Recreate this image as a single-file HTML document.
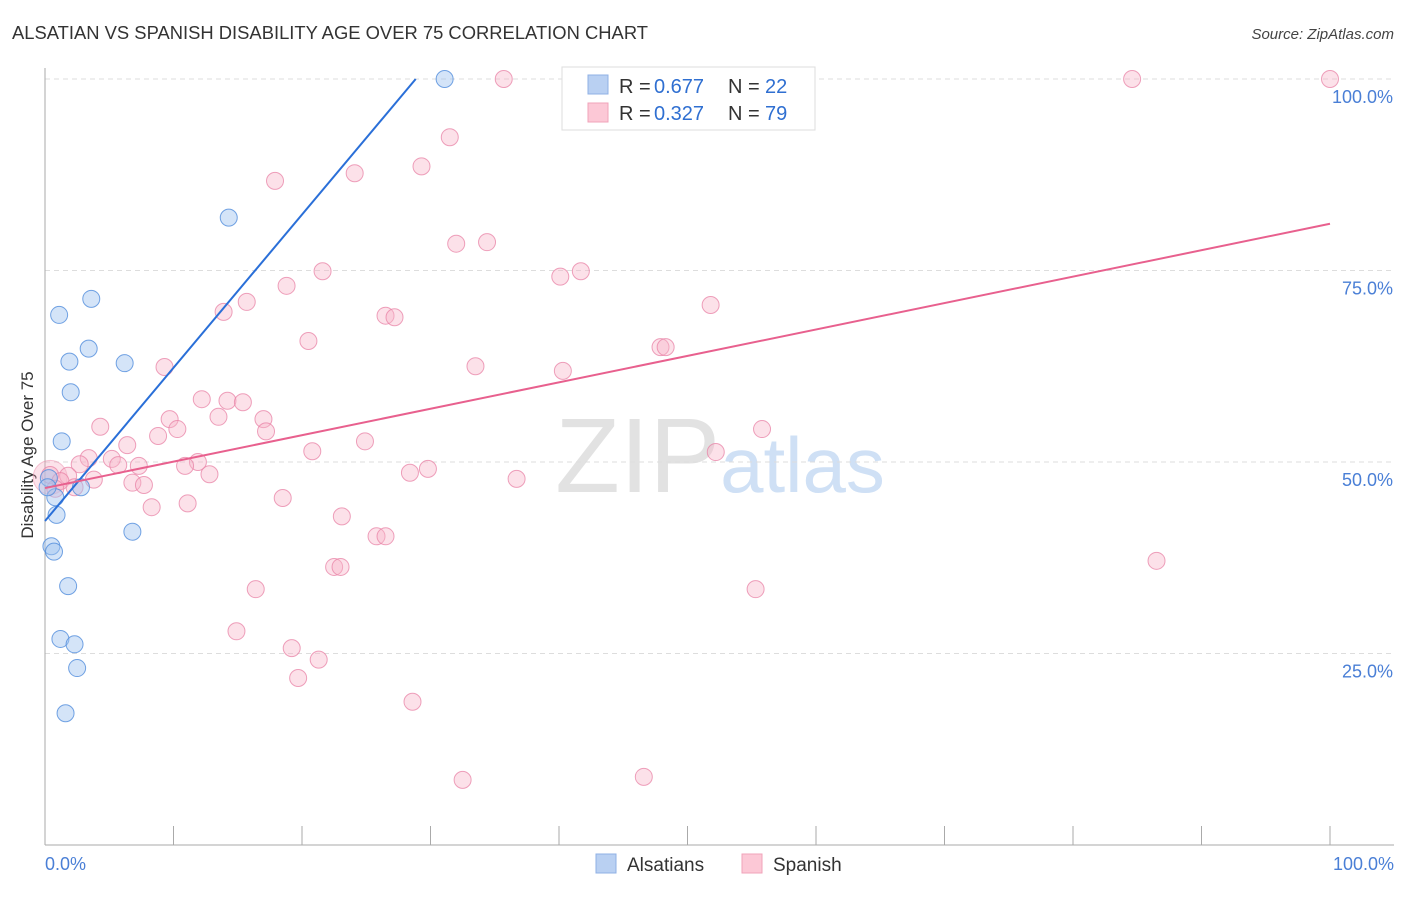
<!DOCTYPE html>
<html><head><meta charset="utf-8"><style>
body{margin:0;background:#fff;font-family:"Liberation Sans",sans-serif;}
svg text{font-family:"Liberation Sans",sans-serif;}
</style></head><body>
<svg id="chart" width="1406" height="892" xmlns="http://www.w3.org/2000/svg">
<text x="12" y="39" font-size="18" fill="#333" textLength="636" lengthAdjust="spacingAndGlyphs">ALSATIAN VS SPANISH DISABILITY AGE OVER 75 CORRELATION CHART</text>
<text x="1394" y="39" font-size="15" fill="#444" text-anchor="end" font-style="italic">Source: ZipAtlas.com</text>
<text x="720" y="492" font-size="106" text-anchor="middle" font-family="Liberation Serif" fill="#e2e2e2">ZIP<tspan fill="#cfe0f5" font-family="Liberation Sans" font-size="78">atlas</tspan></text>
<text transform="translate(33,455) rotate(-90)" font-size="17" fill="#333" text-anchor="middle">Disability Age Over 75</text>
<g id="grid"></g><g id="axes"></g><g id="pts"></g><g id="lines"></g>
<g>
<rect x="562" y="67" width="253" height="63" fill="#fff" stroke="#ddd"/>
<rect x="588" y="75" width="20" height="19" fill="#b9d0f2" stroke="#8fb0e4"/>
<rect x="588" y="103" width="20" height="19" fill="#fcc8d6" stroke="#f0a3ba"/>
<text x="619" y="93" font-size="20" fill="#333">R =</text>
<text x="654" y="93" font-size="20" fill="#2f6fd1">0.677</text>
<text x="728" y="93" font-size="20" fill="#333">N =</text>
<text x="765" y="93" font-size="20" fill="#2f6fd1">22</text>
<text x="619" y="120" font-size="20" fill="#333">R =</text>
<text x="654" y="120" font-size="20" fill="#2f6fd1">0.327</text>
<text x="728" y="120" font-size="20" fill="#333">N =</text>
<text x="765" y="120" font-size="20" fill="#2f6fd1">79</text>
</g>
<g>
<rect x="596" y="854" width="20" height="19" fill="#b9d0f2" stroke="#8fb0e4"/>
<text x="627" y="871" font-size="19" fill="#333">Alsatians</text>
<rect x="742" y="854" width="20" height="19" fill="#fcc8d6" stroke="#f0a3ba"/>
<text x="773" y="871" font-size="19" fill="#333">Spanish</text>
</g>
</svg>
<script>
const yTicks=[25,50,75,100];
const yTickLabels=["25.0%","50.0%","75.0%","100.0%"];
const xTickLabels=["0.0%","100.0%"];
const alsX=[31.1,14.3,3.6,1.1,3.4,1.9,6.2,2.0,1.3,0.3,0.8,2.8,0.9,6.8,0.5,0.7,1.8,1.2,2.3,2.5,1.6,0.2];
const alsY=[100,81.9,71.3,69.2,64.8,63.1,62.9,59.1,52.7,47.9,45.4,46.7,43.1,40.9,39.0,38.3,33.8,26.9,26.2,23.1,17.2,46.7];
const spaX=[35.7,84.6,100,31.5,29.3,24.1,17.9,34.4,32.0,21.6,41.7,40.1,18.8,51.8,15.7,13.9,26.5,27.2,20.5,47.9,48.3,33.5,9.3,40.3,12.2,14.2,15.4,9.7,17.0,13.5,4.3,10.3,17.2,55.8,8.8,24.9,6.4,20.8,52.2,3.4,5.2,11.9,2.7,7.3,5.7,10.9,29.8,28.4,12.8,1.8,0.4,36.7,3.8,1.2,6.8,7.7,2.3,0.8,18.5,11.1,8.3,23.1,25.8,26.5,86.5,22.5,23.0,16.4,55.3,14.9,19.2,21.3,19.7,28.6,32.5,46.6];
const spaY=[100,100,100,92.4,88.6,87.7,86.7,78.7,78.5,74.9,74.9,74.2,73.0,70.5,70.9,69.6,69.1,68.9,65.8,65.0,65.0,62.5,62.4,61.9,58.2,58.0,57.8,55.6,55.6,55.9,54.6,54.3,54.0,54.3,53.4,52.7,52.2,51.4,51.3,50.5,50.4,50.0,49.7,49.5,49.6,49.5,49.1,48.6,48.4,48.2,48.3,47.8,47.7,47.5,47.3,47.0,46.7,46.5,45.3,44.6,44.1,42.9,40.3,40.3,37.1,36.3,36.3,33.4,33.4,27.9,25.7,24.2,21.8,18.7,8.5,8.9];
const alsTrend=[42.3,2.0];
const spaTrend=[46.6,0.345];
const X=v=>45+v*12.85, Y=v=>845-v*7.66;
const NS="http://www.w3.org/2000/svg";
function mk(p,t,a){const e=document.createElementNS(NS,t);for(const k in a)e.setAttribute(k,a[k]);document.getElementById(p).appendChild(e);return e;}
yTicks.forEach((t,i)=>{
 const g=mk('grid','line',{x1:45,x2:1394,y1:Y(t),y2:Y(t),stroke:'#ddd','stroke-dasharray':'5,4'});
 
 
 const l=mk('grid','text',{x:1393,y:Y(t)+24,'font-size':18,fill:'#4a7fd6','text-anchor':'end'});l.textContent=yTickLabels[i];
 
 
});
const ax=mk('axes','line',{x1:45,x2:45,y1:68,y2:845,stroke:'#aaa'});


const bx=mk('axes','line',{x1:45,x2:1394,y1:845,y2:845,stroke:'#aaa'});


for(let i=0;i<=10;i++){const t=mk('axes','line',{x1:X(i*10),x2:X(i*10),y1:826,y2:845,stroke:'#aaa'});
 
 }
[[0,'start',45],[100,'end',1394]].forEach((d,i)=>{const t=mk('axes','text',{x:d[2],y:870,'font-size':18,fill:'#4a7fd6','text-anchor':d[1]});t.textContent=xTickLabels[i];
 
 });
const big=mk('pts','circle',{cx:X(0.4),cy:Y(48),r:17,fill:'rgba(245,160,185,0.3)',stroke:'rgba(235,140,170,0.5)'});


spaX.forEach((x,i)=>{const c=mk('pts','circle',{cx:X(x),cy:Y(spaY[i]),r:8.5,fill:'rgba(248,180,200,0.4)',stroke:'rgba(232,130,165,0.75)'});
 
 });
alsX.forEach((x,i)=>{const c=mk('pts','circle',{cx:X(x),cy:Y(alsY[i]),r:8.5,fill:'rgba(160,195,240,0.45)',stroke:'rgba(80,140,220,0.8)'});
 
 });
const ax2=(100-alsTrend[0])/alsTrend[1];
const bl=mk('lines','line',{x1:X(0),y1:Y(alsTrend[0]),x2:X(ax2),y2:Y(100),stroke:'#2a6fd8','stroke-width':2});


const pl=mk('lines','line',{x1:X(0),y1:Y(spaTrend[0]),x2:X(100),y2:Y(spaTrend[0]+spaTrend[1]*100),stroke:'#e8608e','stroke-width':2});


</script>
</body></html>
